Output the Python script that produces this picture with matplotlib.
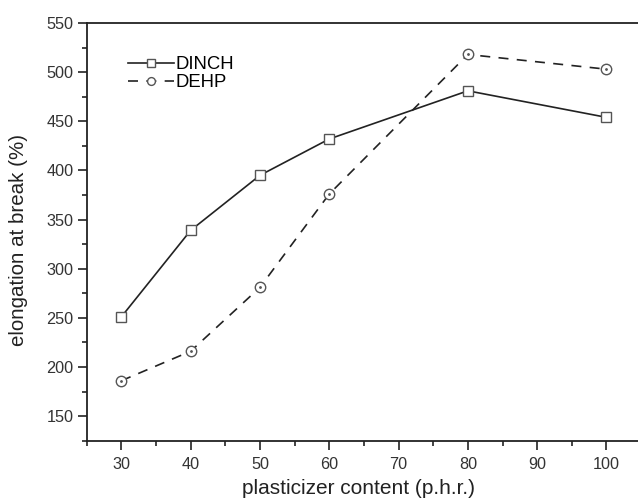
import matplotlib
matplotlib.use("Agg")
import matplotlib.pyplot as plt
from matplotlib.ticker import MultipleLocator

plt.rcParams['font.family'] = ['Liberation Sans', 'DejaVu Sans']

content = [30, 40, 50, 60, 80, 100]
dinch = [251, 339, 395, 432, 481, 454]
dehp = [186, 216, 281, 376, 518, 503]

fig = plt.figure(figsize=(6.38, 4.98), dpi=100)
ax = fig.add_axes([0.1359, 0.1151, 0.869, 0.8387])

line_col = '#222222'
mk_col = '#555555'

ax.plot(content, dinch, '-', color=line_col, lw=1.2, marker='s', ms=7,
        mfc='white', mec=mk_col, mew=1.0, label='DINCH')
ax.plot(content, dehp, color=line_col, lw=1.2, ls=(0, (6, 5)), marker='o', ms=7.5,
        mfc='white', mec=mk_col, mew=1.0, label='DEHP')
# tiny centre dots inside the circle markers
ax.plot(content, dehp, ls='none', marker='o', ms=1.0, mfc=mk_col, mec=mk_col)

ax.set_xlim(25, 105)
ax.set_ylim(125, 550)
ax.xaxis.set_major_locator(MultipleLocator(10))
ax.xaxis.set_minor_locator(MultipleLocator(5))
ax.yaxis.set_major_locator(MultipleLocator(50))
ax.yaxis.set_minor_locator(MultipleLocator(25))
ax.set_yticks([150, 200, 250, 300, 350, 400, 450, 500, 550])

ax.tick_params(which='major', direction='out', length=6.5, width=1.2,
               labelsize=11.7, labelcolor='#333333', color='#222222')
ax.tick_params(which='minor', direction='out', length=3.5, width=1.2, color='#222222')
ax.tick_params(axis='x', pad=5)
ax.tick_params(axis='y', pad=3)

for side in ['left', 'bottom', 'top', 'right']:
    ax.spines[side].set_linewidth(1.3)
    ax.spines[side].set_color('#222222')

ax.set_xlabel('plasticizer content (p.h.r.)', fontsize=15, color='#222222')
ax.set_ylabel('elongation at break (%)', fontsize=14.8, color='#222222')
ax.xaxis.set_label_coords(0.491, -0.092)
ax.yaxis.set_label_coords(-0.1066, 0.48)

leg = ax.legend(loc='upper left', bbox_to_anchor=(0.061, 0.938), frameon=False, fontsize=13.3,
                handlelength=2.5, handletextpad=0.1, labelspacing=0.05, borderaxespad=0,
                markerscale=0.75)

fig.savefig('out.png', dpi=100)
